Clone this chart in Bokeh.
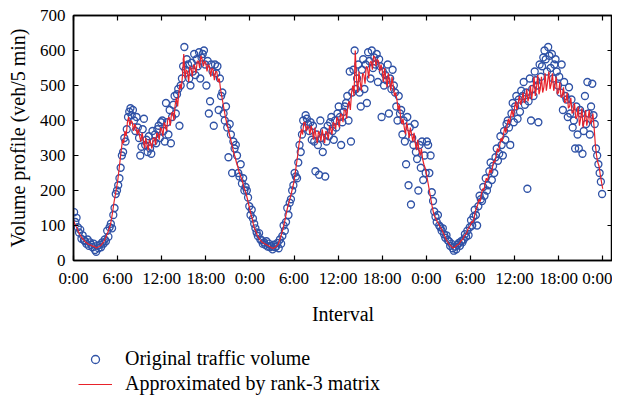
from bokeh.plotting import figure
from bokeh.models import (Range1d, FixedTicker, LinearAxis, Legend, LegendItem)
from bokeh.layouts import column
from bokeh.embed import file_html
from bokeh.resources import INLINE

# ---- data (5-min interval index; readings every 10 min) ----
tick_positions = [0, 72, 144, 216, 288, 360, 432, 504, 576, 648, 720, 792, 864]
tick_labels = ["0:00", "6:00", "12:00", "18:00", "0:00", "6:00", "12:00", "18:00",
               "0:00", "6:00", "12:00", "18:00", "0:00"]
y_ticks = [0, 100, 200, 300, 400, 500, 600, 700]

approx_day1 = [115,105,98, 92,82,75, 70,64,60, 56,52,50, 47,45,44, 42,40,41, 37,36,39, 40,42,46,
               50,55,62, 72,80,90, 100,118,140, 165,185,205, 225,255,285, 315,345,335, 370,355,395, 410,385,400,
               395,370,390, 380,360,375, 355,340,365, 345,320,350, 330,315,345, 335,320,350, 350,330,365, 360,345,380,
               375,355,395, 385,370,405, 410,385,420, 425,400,445, 465,440,480, 505,490,530, 590,520,545, 540,510,555,
               550,525,560, 555,535,570, 570,550,585, 575,555,570, 565,540,560, 555,525,550, 545,515,540, 540,510,520,
               490,470,450, 430,410,395, 380,365,350, 335,320,305, 295,280,270, 255,245,235, 225,210,200, 190,175,160]
approx_day2 = [145,130,118, 100,90,82, 72,66,60, 56,52,50, 48,46,44, 42,40,38, 36,34,37, 38,42,46,
               55,65,78, 90,105,122, 140,155,168, 180,195,210, 225,250,275, 300,330,350, 375,360,395, 395,370,385,
               380,360,385, 370,345,380, 355,335,370, 360,340,375, 355,335,370, 365,345,385, 375,360,395, 390,375,410,
               400,380,420, 415,395,430, 430,405,445, 455,430,480, 500,470,600, 520,480,540, 510,485,535, 530,505,555,
               550,520,565, 570,545,585, 580,555,575, 570,540,560, 545,510,550, 520,495,535, 510,485,525, 500,470,480,
               460,430,445, 410,390,405, 380,360,395, 375,350,380, 360,340,365, 335,315,345, 315,300,320, 290,275,265]
approx_day3 = [250,230,210, 190,170,150, 135,125,118, 110,105,98, 92,85,78, 70,62,55, 50,45,42, 38,36,38,
               40,44,46, 48,55,58, 62,70,74, 78,90,95, 100,112,108, 120,140,150, 160,175,168, 190,205,200,
               220,235,228, 245,260,250, 265,285,280, 300,320,310, 330,350,340, 360,380,365, 385,405,390, 415,430,410,
               435,455,430, 450,470,445, 460,480,450, 465,490,455, 470,500,460, 490,525,470, 495,530,475, 490,525,480,
               495,535,485, 510,540,490, 505,535,485, 500,525,475, 480,510,465, 470,495,450, 455,480,435, 440,465,420,
               425,450,405, 410,440,385, 405,435,380, 400,430,385, 405,430,390, 400,420,380, 330,300,280, 270,245,225, 205]

orig_day1 = [138,110,122, 95,80,88, 62,72,58, 55,48,60, 42,52,45, 38,48,30, 25,42,35, 45,38,52,
             48,60,55, 85,68,95, 105,92,130, 150,190,200, 215,235,265, 300,310,350, 340,375,410, 425,435,415,
             430,400,370, 410,380,350, 300,325,375, 405,330,345, 310,355,320, 305,370,340, 360,335,375, 385,350,395,
             400,370,340, 450,395,360, 430,335,410, 445,470,420, 475,490,385, 500,520,555, 610,545,575, 560,520,500,
             565,540,590, 530,575,555, 595,520,580, 590,600,560, 500,570,420, 455,560,540, 385,560,535, 555,430,520,
             470,480,420, 400,440,380, 295,390,360, 250,340,320, 330,300,250, 240,275,220, 235,200,210, 200,180,155]
orig_day2 = [130,145,120, 105,92,80, 70,78,60, 58,48,52, 45,55,40, 48,38,42, 32,45,38, 40,50,35,
             60,48,70, 100,85,110, 150,130,165, 175,200,215, 250,240,235, 280,330,310, 360,400,380, 415,405,390,
             370,395,345, 385,340,255, 360,330,245, 400,350,310, 370,240,340, 385,355,395, 410,370,345, 400,380,420,
             440,410,330, 395,425,440, 450,470,400, 540,340,480, 545,600,490, 520,560,480, 440,545,575, 490,560,450,
             595,570,520, 600,550,580, 560,590,510, 575,555,410, 540,500,530, 515,560,420, 520,490,545, 500,480,440,
             400,470,420, 430,360,400, 340,275,410, 215,380,160, 350,330,390, 310,290,200, 330,265,340, 230,300,250]
orig_day3 = [340,330,250, 300,195,170, 140,125,110, 130,100,95, 85,92,75, 65,72,58, 55,42,48, 35,28,40,
             32,45,50, 42,55,52, 60,75,68, 85,72,95, 115,100,125, 145,130,100, 155,185,175, 170,210,185,
             235,200,215, 255,280,230, 270,250,295, 320,285,305, 355,330,300, 370,345,390, 400,380,330, 420,450,395,
             440,470,405, 460,425,485, 470,510,445, 480,205,455, 520,400,490, 470,540,515, 500,395,560, 525,555,580,
             600,575,540, 610,585,550, 590,520,560, 575,540,500, 525,480,560, 430,510,470, 460,410,495, 420,460,380,
             400,320,440, 360,320,430, 420,305,370, 470,390,510, 420,360,440, 505,415,390, 320,300,275, 250,225,190]

DAY = 288
approx_x, approx_y, orig_x, orig_y = [], [], [], []
for d, (a, o) in enumerate([(approx_day1, orig_day1), (approx_day2, orig_day2), (approx_day3, orig_day3)]):
    for i, v in enumerate(a):
        approx_x.append(d * DAY + 2 * i)
        approx_y.append(v)
    for i, v in enumerate(o):
        orig_x.append(d * DAY + 2 * i + 1)
        orig_y.append(v)

FONT = "Liberation Serif"
BLUE = "#2f52a6"
RED = "#e8222a"

p = figure(width=612, height=330, output_backend="svg", toolbar_location=None,
           x_range=Range1d(0, 880), y_range=Range1d(0, 700),
           min_border_left=73, min_border_right=0, min_border_top=15, min_border_bottom=70,
           x_axis_label="Interval", y_axis_label="Volume profile (veh/5 min)")
p.grid.visible = False
p.outline_line_color = "black"
p.outline_line_width = 1.5

p.scatter(orig_x, orig_y, marker="circle", size=7, fill_color=None,
          line_color=BLUE, line_width=1.3)
p.line(approx_x, approx_y, line_color=RED, line_width=1.2)

p.xaxis.ticker = FixedTicker(ticks=tick_positions)
p.xaxis.major_label_overrides = {t: l for t, l in zip(tick_positions, tick_labels)}
p.yaxis.ticker = FixedTicker(ticks=y_ticks)

for ax in (p.xaxis[0], p.yaxis[0]):
    ax.major_tick_in = 5
    ax.major_tick_out = 0
    ax.minor_tick_line_color = None
    ax.axis_line_width = 1.5
    ax.major_tick_line_width = 1.2
    ax.major_label_text_font = FONT
    ax.major_label_text_font_size = "17px"
    ax.major_label_text_color = "black"
    ax.axis_label_text_font = FONT
    ax.axis_label_text_font_size = "20px"
    ax.axis_label_text_font_style = "normal"
    ax.axis_label_text_color = "black"
p.xaxis.major_label_standoff = 8
p.xaxis.axis_label_standoff = 12
p.yaxis.major_label_standoff = 8
p.yaxis.axis_label_standoff = 8

top = LinearAxis(ticker=FixedTicker(ticks=tick_positions), major_tick_in=5, major_tick_out=0,
                 minor_tick_line_color=None, major_label_text_color=None,
                 major_label_text_font_size="1px", major_label_standoff=0,
                 axis_line_width=1.5, major_tick_line_width=1.2)
right = LinearAxis(ticker=FixedTicker(ticks=y_ticks), major_tick_in=5, major_tick_out=0,
                   minor_tick_line_color=None, major_label_text_color=None,
                   major_label_text_font_size="1px", major_label_standoff=0,
                   axis_line_width=1.5, major_tick_line_width=1.2)
p.add_layout(top, "above")
p.add_layout(right, "right")

# legend panel below the chart (its keys use hidden stand-in glyphs outside the range)
lg = figure(width=612, height=66, output_backend="svg", toolbar_location=None,
            x_range=Range1d(0, 1), y_range=Range1d(0, 1),
            x_axis_type=None, y_axis_type=None,
            min_border_left=0, min_border_right=0, min_border_top=0, min_border_bottom=0)
lg.outline_line_color = None
lg.grid.visible = False
sc_key = lg.scatter([5], [5], marker="circle", size=7, fill_color=None, line_color=BLUE, line_width=1.3)
ln_key = lg.line([5, 6], [5, 6], line_color=RED, line_width=1.2)
legend = Legend(items=[LegendItem(label="Original traffic volume", renderers=[sc_key]),
                       LegendItem(label="Approximated by rank-3 matrix", renderers=[ln_key])],
                location=(5, 1), orientation="vertical",
                label_text_font=FONT, label_text_font_size="20px", label_text_color="black",
                glyph_width=34, glyph_height=20, label_height=20, spacing=2,
                label_standoff=13, padding=0, margin=0,
                border_line_color=None, background_fill_alpha=0)
lg.add_layout(legend)

open("out.html", "w").write(file_html(column(p, lg), INLINE))
